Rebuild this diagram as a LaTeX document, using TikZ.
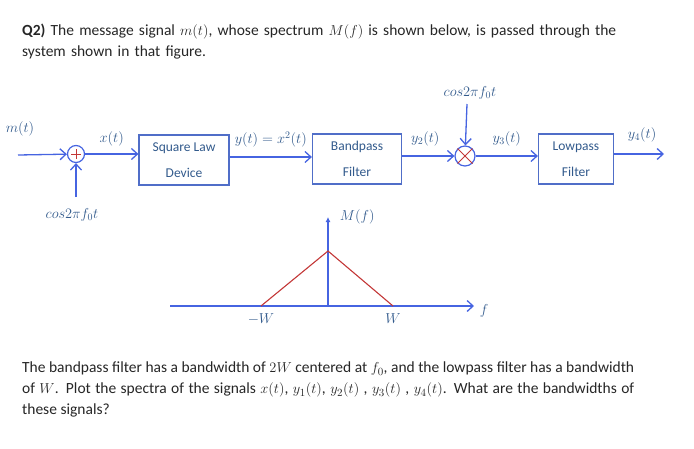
\documentclass[tikz,border=0pt]{standalone}
\usepackage{fontspec}
\setmainfont{Carlito}
\usepackage{amsmath}
\usetikzlibrary{arrows.meta}
\definecolor{lineblue}{RGB}{70,100,225}
\definecolor{boxblue}{RGB}{80,110,200}
\definecolor{labelblue}{RGB}{50,90,140}
\definecolor{spred}{RGB}{195,55,55}
\begin{document}
\begin{tikzpicture}[x=1pt,y=-1pt]
	\tikzstyle{block} = [draw=boxblue,line width=1.2pt,minimum width=90pt,minimum height=50pt,align=center,text=labelblue,font=\fontsize{13.5}{26}\selectfont]
	\tikzstyle{sig} = [text=labelblue,font=\fontsize{14.5}{16}\selectfont]
	\tikzstyle{wire} = [lineblue,line width=1.3pt,-{Straight Barb[length=6pt,width=11pt]}]
	\tikzstyle{para} = [anchor=north west,text width=612pt,align=justify,inner sep=0pt,font=\fontsize{15.5}{21}\selectfont,text=black!85]
	\useasboundingbox (0,0) rectangle (694,448);
	% question text
	\node[para,align=left,text width=660pt] (title) at (22,24) {\textbf{Q2)} The message signal $m(t)$, whose spectrum $M(f)$ is shown below, is passed through the\\system shown in that figure.};
	% blocks
	\node[block] (square) at (184,160) {Square Law\\Device};
	\node[block,minimum width=89pt] (bandpass) at (357,159) {Bandpass\\Filter};
	\node[block,minimum width=75pt] (lowpass) at (576,159) {Lowpass\\Filter};
	\node[circle,draw=lineblue,line width=1.2pt,minimum size=17pt,inner sep=0pt] (adder) at (76,154) {};
	\draw[spred,thick] ([xshift=-5pt]adder.center) -- ([xshift=5pt]adder.center) ([yshift=-5pt]adder.center) -- ([yshift=5pt]adder.center);
	\node[circle,draw=lineblue,line width=1.2pt,minimum size=20pt,inner sep=0pt] (mixer) at (465,156) {};
	\draw[spred,thick] (mixer.north east) -- (mixer.south west) (mixer.north west) -- (mixer.south east);
	% inputs and outputs
	\coordinate (min) at (18,155);
	\coordinate (cosa) at (76,197);
	\coordinate (cosb) at (467,104);
	\coordinate (yout) at (664,154);
	\node[sig] (mlab) at (20,129) {$m(t)$};
	\node[sig] (cosalab) at (72,215) {$cos2\pi f_0t$};
	\node[sig] (cosblab) at (470,93) {$cos2\pi f_0t$};
	% connections
	\draw[wire] (min) -- (adder);
	\draw[wire] (cosa) -- (adder);
	\draw[wire] (adder) -- node[sig,above,yshift=4pt] {$x(t)$} (square.west |- adder);
	\draw[wire] (square.east |- 0,157) -- node[sig,above,yshift=6pt] {$y(t)=x^2(t)$} (bandpass.west |- 0,157);
	\draw[wire] (bandpass.east |- mixer) -- node[sig,above,xshift=-3pt,yshift=6pt] {$y_2(t)$} (mixer);
	\draw[wire] (cosb) -- (mixer);
	\draw[wire] (mixer) -- node[sig,above,yshift=6pt] {$y_3(t)$} (lowpass.west |- mixer);
	\draw[wire] (lowpass.east |- yout) -- node[sig,above,yshift=8pt,xshift=3pt] {$y_4(t)$} (yout);
	% spectrum
	\coordinate (fstart) at (170,306);
	\coordinate (fend) at (474,306);
	\coordinate (forigin) at (328,306);
	\coordinate (mtop) at (328,217);
	\coordinate (peak) at (328,251);
	\coordinate (wneg) at (261,306);
	\coordinate (wpos) at (393,306);
	\draw[wire] (fstart) -- (fend) node[sig,right,xshift=2pt,yshift=-5pt] {$f$};
	\draw[lineblue,line width=1.3pt,-{Latex[length=5pt,width=5pt]}] (forigin) -- (mtop) node[sig,right,xshift=8pt] {$M(f)$};
	\draw[spred,line width=1.1pt] (wneg) -- (peak) -- (wpos);
	\node[sig,below=4pt] at (wneg) {$-W$};
	\node[sig,below=4pt] at (wpos) {$W$};
	% problem text
	\node[para] (body) at (22,362) {The bandpass filter has a bandwidth of $2W$ centered at $f_0$, and the lowpass filter has a bandwidth of $W$. Plot the spectra of the signals $x(t)$, $y_1(t)$, $y_2(t)$ , $y_3(t)$ , $y_4(t)$. What are the bandwidths of these signals?};
\end{tikzpicture}
\end{document}
